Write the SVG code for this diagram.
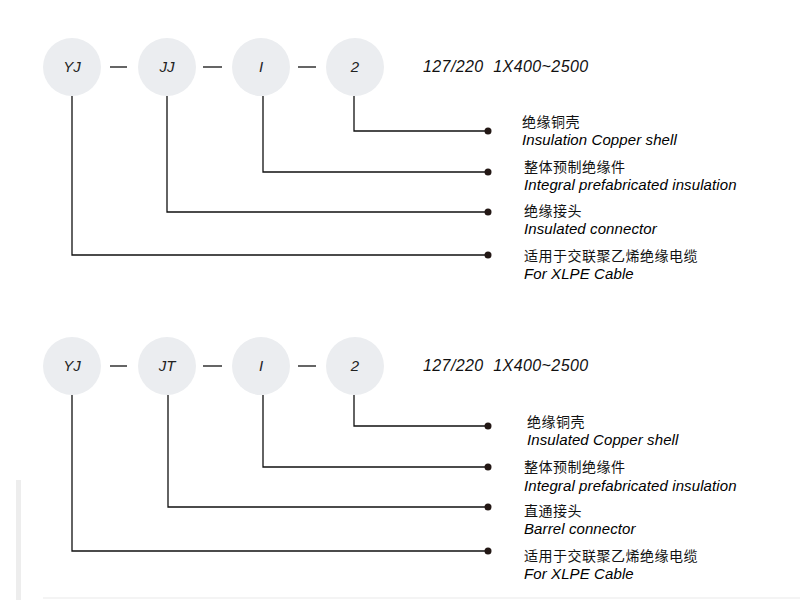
<svg xmlns="http://www.w3.org/2000/svg" width="800" height="600" viewBox="0 0 800 600">
<style>
.n circle{fill:#ebedf0}
.n text{font-family:"Liberation Sans",Arial,sans-serif;font-style:italic;font-size:15px;fill:#222;text-anchor:middle}
.c line,.c polyline{stroke:#111;stroke-width:1.3;fill:none}
.c circle{fill:#231815}
.spec{font-family:"Liberation Sans",Arial,sans-serif;font-style:italic;font-size:16px;letter-spacing:0.4px;fill:#111;white-space:pre}
.zh{font-family:"Liberation Sans","Noto Sans CJK SC",sans-serif;font-size:14px;letter-spacing:0.5px;fill:#111}
.en{font-family:"Liberation Sans",Arial,sans-serif;font-style:italic;font-size:15px;letter-spacing:0.1px;fill:#000}
</style>
<rect width="800" height="600" fill="#fff"/>
<rect x="16" y="480" width="5" height="120" fill="#ededed"/>
<line x1="43" y1="598" x2="800" y2="598" stroke="#f0f0f0" stroke-width="1.5"/>

<g id="row1">
<g id="n1-yj" class="n"><circle cx="72" cy="67" r="29"/><text x="72" y="72">YJ</text></g>
<g id="n1-jj" class="n"><circle cx="167" cy="67" r="29"/><text x="167" y="72">JJ</text></g>
<g id="n1-i" class="n"><circle cx="261" cy="67" r="29"/><text x="261" y="72">I</text></g>
<g id="n1-2" class="n"><circle cx="355" cy="67" r="29"/><text x="355" y="72">2</text></g>
<text class="spec" x="423" y="72" xml:space="preserve">127/220  1X400~2500</text>
</g>
<g id="connectors1" class="c">
<line x1="110" y1="67" x2="127" y2="67"/>
<line x1="203" y1="67" x2="222" y2="67"/>
<line x1="298" y1="67" x2="316" y2="67"/>
<polyline points="354,96 354,131 488,131"/><circle cx="488" cy="131" r="3.5"/>
<polyline points="263,96 263,172 488,172"/><circle cx="488" cy="172" r="3.5"/>
<polyline points="167,96 167,212 488,212"/><circle cx="488" cy="212" r="3.5"/>
<polyline points="72,96 72,255 488,255"/><circle cx="488" cy="255" r="3.5"/>
</g>
<g id="labels1">
<text class="zh" x="522" y="127">绝缘铜壳</text>
<text class="en" x="522" y="145">Insulation Copper shell</text>
<text class="zh" x="524" y="172">整体预制绝缘件</text>
<text class="en" x="524" y="190">Integral prefabricated insulation</text>
<text class="zh" x="524" y="216">绝缘接头</text>
<text class="en" x="524" y="234">Insulated connector</text>
<text class="zh" x="524" y="261">适用于交联聚乙烯绝缘电缆</text>
<text class="en" x="524" y="279">For XLPE Cable</text>
</g>

<g id="row2">
<g id="n2-yj" class="n"><circle cx="72" cy="366" r="29"/><text x="72" y="371">YJ</text></g>
<g id="n2-jt" class="n"><circle cx="167" cy="366" r="29"/><text x="167" y="371">JT</text></g>
<g id="n2-i" class="n"><circle cx="261" cy="366" r="29"/><text x="261" y="371">I</text></g>
<g id="n2-2" class="n"><circle cx="355" cy="366" r="29"/><text x="355" y="371">2</text></g>
<text class="spec" x="423" y="371" xml:space="preserve">127/220  1X400~2500</text>
</g>
<g id="connectors2" class="c">
<line x1="110" y1="366" x2="127" y2="366"/>
<line x1="203" y1="366" x2="222" y2="366"/>
<line x1="298" y1="366" x2="316" y2="366"/>
<polyline points="354,395 354,426 488,426"/><circle cx="488" cy="426" r="3.5"/>
<polyline points="263,395 263,467 488,467"/><circle cx="488" cy="467" r="3.5"/>
<polyline points="168,395 168,507 488,507"/><circle cx="488" cy="507" r="3.5"/>
<polyline points="72,395 72,551 488,551"/><circle cx="488" cy="551" r="3.5"/>
</g>
<g id="labels2">
<text class="zh" x="527" y="427">绝缘铜壳</text>
<text class="en" x="527" y="445">Insulated Copper shell</text>
<text class="zh" x="524" y="472">整体预制绝缘件</text>
<text class="en" x="524" y="491">Integral prefabricated insulation</text>
<text class="zh" x="524" y="516">直通接头</text>
<text class="en" x="524" y="534">Barrel connector</text>
<text class="zh" x="524" y="561">适用于交联聚乙烯绝缘电缆</text>
<text class="en" x="524" y="579">For XLPE Cable</text>
</g>
</svg>
